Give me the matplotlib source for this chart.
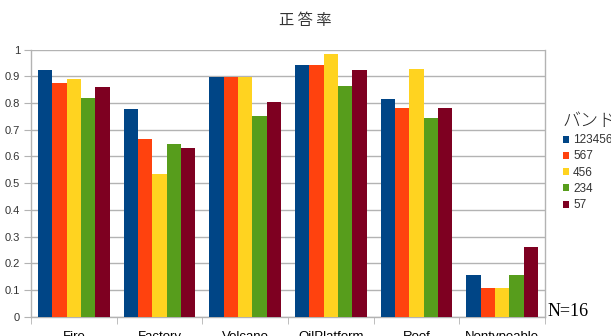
import numpy as np
import matplotlib
matplotlib.use("Agg")
import matplotlib.pyplot as plt
from matplotlib.ticker import MultipleLocator, FixedLocator

# data
categories = ["Fire", "Factory", "Volcano", "OilPlatform", "Roof", "Nontypeable"]
bands = ["1234567", "567", "456", "234", "57"]
v_1234567 = [0.925, 0.777, 0.897, 0.943, 0.816, 0.156]
v_567 = [0.875, 0.664, 0.897, 0.943, 0.780, 0.106]
v_456 = [0.890, 0.534, 0.897, 0.984, 0.927, 0.106]
v_234 = [0.820, 0.646, 0.752, 0.864, 0.743, 0.156]
v_57 = [0.861, 0.631, 0.805, 0.923, 0.780, 0.262]
series = [v_1234567, v_567, v_456, v_234, v_57]
colors = ["#004586", "#ff420e", "#ffd320", "#579d1c", "#7e0021"]

plt.rcParams["font.family"] = ["Liberation Sans", "Noto Sans CJK JP", "DejaVu Sans"]

fig = plt.figure(figsize=(6.11, 3.36), dpi=100)
ax = fig.add_axes([31/611, 1 - 316.7/336, 514/611, 267/336])

x = np.arange(len(categories))
group_w = 0.84
bw = group_w / len(series)
for i, (vals, c) in enumerate(zip(series, colors)):
    ax.bar(x - group_w/2 + bw*(i + 0.5), vals, width=bw, color=c, label=bands[i],
           edgecolor="none", zorder=3)

ax.set_xlim(-0.5, len(categories) - 0.5)
ax.set_ylim(0, 1)
ax.yaxis.set_major_locator(MultipleLocator(0.1))
ax.set_yticklabels([f"{t:g}" for t in np.round(ax.get_yticks(), 1)])
ax.grid(axis="y", color="#b3b3b3", linewidth=1, zorder=0)
ax.spines["top"].set_visible(False)
for s in ["left", "right", "bottom"]:
    ax.spines[s].set_color("#b3b3b3")
    ax.spines[s].set_linewidth(1)

ax.set_xticks(x)
ax.set_xticklabels(categories, fontsize=9.5, color="#000000")
ax.xaxis.set_minor_locator(FixedLocator(np.arange(-0.5, len(categories), 1.0)))
ax.tick_params(axis="x", which="major", length=0, pad=10)
ax.tick_params(axis="x", which="minor", length=5, color="#b3b3b3")
ax.tick_params(axis="y", length=5, color="#b3b3b3", labelsize=8, labelcolor="#333333", pad=3)

fig.text(0.5, 1 - 20/336, "正 答 率", ha="center", va="center", fontsize=11,
         color="#333333", family=["Noto Sans CJK JP"])

leg = fig.legend(loc="upper left", bbox_to_anchor=(563/611, 1 - 112/336), frameon=False,
                 title="バンド", fontsize=8.5, handlelength=0.55, handleheight=0.55,
                 handletextpad=0.3, labelspacing=0.36, borderaxespad=0, borderpad=0)
leg.get_title().set_fontsize(13)
leg.get_title().set_family(["Noto Sans CJK JP"])
leg.get_title().set_fontweight("light")
leg.get_title().set_color("#222222")
leg._legend_box.align = "left"
for t in leg.get_texts():
    t.set_color("#333333")

fig.text(548/611, 1 - 312/336, "N=16", ha="left", va="center", fontsize=13,
         family=["Liberation Serif"], color="#000000")

fig.savefig("out.png", dpi=100)
plt.close(fig)
